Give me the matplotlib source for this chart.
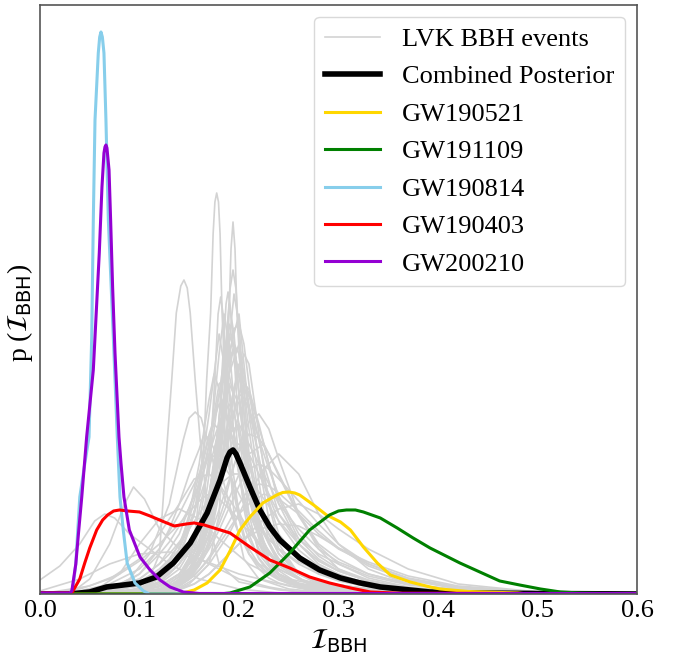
import matplotlib
matplotlib.use("Agg")
import matplotlib.pyplot as plt

plt.rcParams['font.family'] = 'serif'
plt.rcParams['font.serif'] = ['Liberation Serif', 'DejaVu Serif']

# ---- colored event posteriors (arbitrary density units) ----
combined_x = [0.0, 0.03, 0.05, 0.067, 0.084, 0.10, 0.117, 0.134, 0.151, 0.168, 0.181, 0.188, 0.191,
              0.194, 0.197, 0.201, 0.211, 0.221, 0.231, 0.241, 0.261, 0.281, 0.302, 0.322, 0.342,
              0.372, 0.392, 0.43, 0.5, 0.6]
combined_y = [0.0, 0.0, 0.2, 0.7, 0.9, 1.1, 1.7, 3.1, 5.1, 8.1, 11.4, 13.6, 14.2,
              14.4, 14.0, 13.1, 10.7, 8.4, 6.7, 5.4, 3.6, 2.4, 1.6, 1.1, 0.7,
              0.4, 0.2, 0.1, 0.05, 0.0]

gw190521_x = [0.0, 0.14, 0.155, 0.168, 0.181, 0.191, 0.201, 0.211, 0.224, 0.238, 0.244, 0.250,
              0.256, 0.261, 0.275, 0.288, 0.302, 0.312, 0.325, 0.339, 0.352, 0.372, 0.392, 0.402,
              0.43, 0.48, 0.49, 0.6]
gw190521_y = [0.0, 0.0, 0.4, 1.1, 2.4, 4.3, 6.4, 7.7, 9.1, 9.9, 10.15, 10.2,
              10.1, 9.9, 8.9, 7.9, 7.2, 6.4, 4.7, 3.1, 1.9, 1.2, 0.7, 0.5,
              0.25, 0.1, 0.0, 0.0]

gw191109_x = [0.0, 0.18, 0.191, 0.211, 0.231, 0.251, 0.271, 0.291, 0.300, 0.308, 0.317, 0.325,
              0.342, 0.359, 0.375, 0.392, 0.402, 0.422, 0.442, 0.462, 0.482, 0.503, 0.523, 0.543,
              0.57, 0.6]
gw191109_y = [0.0, 0.0, 0.1, 0.7, 2.1, 4.1, 6.4, 7.9, 8.3, 8.4, 8.4, 8.2,
              7.6, 6.6, 5.6, 4.6, 4.1, 3.1, 2.2, 1.3, 0.9, 0.5, 0.2, 0.1,
              0.05, 0.05]

gw190814_x = [0.0, 0.03, 0.033, 0.036, 0.038, 0.040, 0.045, 0.0493, 0.052, 0.0536, 0.0553,
              0.0586, 0.0600, 0.0613, 0.0627, 0.0643, 0.0663, 0.0687, 0.0737, 0.0777, 0.0804,
              0.0837, 0.0876, 0.0955, 0.104, 0.11, 0.6]
gw190814_y = [0.0, 0.0, 0.5, 3.0, 6.4, 9.7, 13.0, 15.7, 25.7, 37.4, 47.4,
              54.1, 55.7, 56.2, 55.7, 54.1, 47.4, 37.4, 25.7, 15.7, 9.7,
              6.4, 3.1, 1.1, 0.3, 0.0, 0.0]

gw190403_x = [0.0, 0.03, 0.032, 0.04, 0.045, 0.05, 0.057, 0.063, 0.068, 0.074, 0.080, 0.088,
              0.100, 0.1106, 0.125, 0.135, 0.147, 0.155, 0.165, 0.178, 0.191, 0.211, 0.231,
              0.251, 0.271, 0.291, 0.312, 0.332, 0.36, 0.47, 0.48, 0.6]
gw190403_y = [0.1, 0.1, 0.1, 1.5, 3.1, 4.6, 6.4, 7.4, 7.9, 8.3, 8.4, 8.3,
              8.2, 7.8, 7.2, 6.8, 7.0, 7.1, 6.9, 6.5, 6.1, 4.7, 3.4,
              2.6, 1.7, 1.1, 0.6, 0.2, 0.08, 0.05, 0.0, 0.0]

gw200210_x = [0.0, 0.03, 0.032, 0.036, 0.039, 0.042, 0.0469, 0.0503, 0.0536, 0.0553, 0.0596,
              0.0623, 0.0643, 0.0653, 0.0663, 0.0673, 0.0694, 0.071, 0.073, 0.0754, 0.0794,
              0.0814, 0.0844, 0.0898, 0.1005, 0.1106, 0.1206, 0.1307, 0.144, 0.16, 0.6]
gw200210_y = [0.1, 0.1, 0.3, 3.0, 6.4, 9.7, 15.7, 19.1, 22.4, 25.7, 34.1,
              40.7, 44.1, 44.7, 44.9, 44.6, 42.4, 37.4, 30.7, 24.1, 15.7,
              13.1, 9.7, 6.4, 3.7, 2.4, 1.4, 0.7, 0.2, 0.05, 0.05]

# ---- LVK BBH event posteriors (grey) ----
# first batch on a coarse shared grid
grid_x = [0.0, 0.04, 0.07, 0.10, 0.12, 0.14, 0.155, 0.17, 0.18, 0.19, 0.20, 0.21, 0.225,
          0.24, 0.26, 0.28, 0.30, 0.33, 0.37, 0.42, 0.50, 0.60]
grey_broad = [
    [0, 0, 0.2, 0.5, 1.2, 3, 6, 13, 20, 27, 22, 14, 7, 4, 2, 1.2, 0.8, 0.4, 0.2, 0.1, 0, 0],
    [0, 0, 0.1, 0.4, 1, 2.5, 5, 10, 16, 22, 25, 19, 11, 6, 3.5, 2, 1.3, 0.7, 0.3, 0.1, 0, 0],
    [0, 0.1, 0.3, 0.8, 2, 4.5, 8, 15, 21, 22, 17, 11, 6, 3.5, 2, 1.2, 0.8, 0.4, 0.2, 0.1, 0, 0],
    [0, 0, 0.1, 0.3, 0.8, 2, 3.5, 7, 10, 14, 18, 20, 15, 9, 5, 3, 2, 1, 0.4, 0.2, 0, 0],
    [0, 0.2, 0.6, 1.5, 3, 6, 10, 16, 19, 17, 12, 8, 5, 3, 2, 1.3, 0.9, 0.5, 0.2, 0.1, 0, 0],
    [0, 0, 0, 0.2, 0.5, 1.2, 3, 8, 16, 24, 28, 18, 8, 4, 2, 1, 0.6, 0.3, 0.1, 0, 0, 0],
    [0, 0, 0.2, 0.5, 1.2, 3, 5, 9, 13, 16, 17, 15, 12, 9, 6.5, 4.5, 3.2, 2, 1, 0.4, 0.1, 0],
    [0, 0, 0, 0.2, 0.5, 1.2, 2.5, 5, 7, 9.5, 12, 14, 15, 12, 8, 5, 3.5, 2, 1, 0.4, 0.1, 0],
    [0, 0.3, 1, 2.5, 4.5, 8, 11, 14, 13.5, 12, 10, 8, 6, 4.5, 3, 2, 1.5, 0.9, 0.4, 0.2, 0.05, 0],
    [0, 0.5, 1.5, 3.5, 6, 9, 11.5, 12, 11, 9.5, 8, 6.5, 4.5, 3, 2, 1.3, 0.9, 0.5, 0.2, 0.1, 0, 0],
    [0, 0, 0.1, 0.3, 0.8, 2, 4.5, 10, 16, 21, 19, 13, 7, 4, 2.2, 1.3, 0.9, 0.5, 0.2, 0.1, 0, 0],
    [0, 0, 0, 0.1, 0.4, 1.2, 3, 7, 12, 18, 23, 20, 13, 8, 5, 3.3, 2.3, 1.3, 0.6, 0.2, 0.05, 0],
    [0, 0, 0.1, 0.4, 1.2, 3.5, 8, 18, 26, 20, 12, 7, 4, 2.5, 1.5, 1, 0.7, 0.4, 0.2, 0.1, 0, 0],
    [0, 0, 0, 0.1, 0.3, 0.8, 1.8, 3.5, 5, 6.5, 8, 9, 10, 9.5, 8, 6, 4.5, 3, 1.6, 0.7, 0.2, 0],
    [0, 0, 0, 0.1, 0.2, 0.5, 1, 2, 3, 4, 5, 5.8, 6.6, 7, 6.8, 5.8, 4.6, 3.2, 1.8, 0.8, 0.2, 0],
    [0, 0, 0, 0, 0.2, 0.6, 1.5, 3, 4.5, 6, 8, 10, 12.5, 14, 12, 8, 5, 2.5, 1, 0.3, 0, 0],
    [0, 0, 0, 0, 0.1, 0.4, 1, 2, 3, 4, 5, 6, 7.5, 8.5, 9, 8, 6.5, 4.5, 2.5, 1, 0.2, 0],
]

# second batch on a finer shared grid
grid2_x = [0.0, 0.05, 0.08, 0.10, 0.12, 0.13, 0.14, 0.15, 0.16, 0.165, 0.17, 0.175, 0.18,
           0.185, 0.19, 0.195, 0.20, 0.205, 0.21, 0.22, 0.23, 0.24, 0.26, 0.28, 0.30, 0.33,
           0.37, 0.42, 0.50, 0.60]
grey_fine = [
    [0, 0, 0.1, 0.3, 0.8, 1.3, 2, 3.2, 5, 6.5, 8.5, 12, 17, 24, 21, 16, 12, 9, 7, 4.5, 3, 2, 1.1, 0.7, 0.4, 0.2, 0.1, 0, 0, 0],
    [0, 0, 0, 0.1, 0.4, 0.8, 1.4, 2.5, 4.5, 6, 8, 11, 15, 19.5, 23.5, 26.5, 27, 25, 21, 13, 7.5, 4.5, 2, 1.1, 0.7, 0.3, 0.1, 0, 0, 0],
    [0, 0, 0.1, 0.3, 0.8, 1.3, 2, 3, 4.5, 5.5, 7, 8.5, 10.5, 13, 15.5, 18, 20, 21, 20.5, 17, 13, 9.5, 5.5, 3.5, 2.3, 1.3, 0.6, 0.2, 0, 0],
    [0, 0.2, 0.6, 1.2, 2.5, 3.5, 5, 7, 9.5, 11, 12.5, 14.5, 16.5, 18, 19, 18, 16, 13.5, 11, 7.5, 5, 3.5, 2, 1.3, 0.8, 0.4, 0.2, 0.1, 0, 0],
    [0, 0, 0.2, 0.5, 1.5, 2.5, 4.5, 8, 13, 16.5, 19.5, 22, 20.5, 17, 13.5, 10, 7.5, 5.5, 4, 2.5, 1.6, 1.1, 0.6, 0.3, 0.2, 0.1, 0, 0, 0, 0],
    [0, 0, 0, 0, 0.2, 0.4, 0.8, 1.5, 3, 4, 5.5, 7.5, 10, 13, 16.5, 20, 22.5, 24, 23, 16, 9, 5, 2, 1, 0.5, 0.2, 0.1, 0, 0, 0],
    [0, 0, 0.2, 0.5, 1.2, 2, 3, 4.5, 6.5, 7.5, 8.8, 10, 11.5, 12.8, 14, 14.8, 15, 14.6, 14, 12, 10, 8, 5.5, 4, 3, 1.8, 0.9, 0.4, 0.1, 0],
    [0, 0, 0, 0.1, 0.5, 1, 1.8, 3.5, 7, 10, 14, 19, 24, 28, 25, 19, 13, 8.5, 6, 3.5, 2.2, 1.5, 0.8, 0.5, 0.3, 0.1, 0, 0, 0, 0],
    [0, 0.2, 0.8, 2, 4.5, 6.5, 9, 12, 14.5, 16, 15.5, 14.5, 13, 11, 9, 7.5, 6, 5, 4, 2.8, 2, 1.4, 0.8, 0.5, 0.3, 0.2, 0.1, 0, 0, 0],
    [0, 0, 0, 0, 0.2, 0.4, 0.8, 1.5, 2.8, 3.7, 4.8, 6, 7.5, 9, 11, 12.8, 14.5, 16, 17.2, 18, 16.5, 13.5, 8, 4.5, 2.5, 1.2, 0.5, 0.2, 0, 0],
    [0, 0.3, 0.8, 1.5, 3, 4, 5.2, 6.5, 8, 8.8, 9.5, 10.2, 10.8, 11.3, 11.7, 12, 12, 11.8, 11.4, 10.2, 8.8, 7.3, 5, 3.3, 2.3, 1.3, 0.6, 0.2, 0.05, 0],
    [0, 0, 0.2, 0.6, 1.6, 2.6, 4, 6.5, 10, 12.5, 15, 17.5, 20, 19, 17, 15, 13, 11, 9.5, 7, 5.5, 4.5, 3.2, 2.4, 1.8, 1.1, 0.6, 0.3, 0.1, 0],
    [0, 0, 0, 0, 0.2, 0.5, 1, 2, 4, 5.5, 7.5, 10, 14, 19, 25, 30, 27, 20, 14, 7, 3.5, 2, 0.9, 0.5, 0.3, 0.1, 0, 0, 0, 0],
    [0, 0.8, 2, 3.3, 5, 6, 7, 8.2, 9.3, 9.7, 10, 9.8, 9.5, 9, 8.5, 8, 7.4, 6.8, 6.2, 5, 4, 3.2, 2, 1.3, 0.9, 0.5, 0.2, 0.1, 0, 0],
    [0, 0, 0, 0.1, 0.3, 0.6, 1, 1.8, 3, 3.7, 4.5, 5.4, 6.4, 7.5, 8.6, 9.7, 10.8, 11.8, 12.5, 13, 12.5, 11.5, 9.3, 7, 5, 3, 1.5, 0.6, 0.1, 0],
    [0, 0, 0, 0.1, 0.4, 0.8, 1.5, 3, 5.5, 7.5, 10, 13.5, 17.5, 22, 26, 24.5, 20, 15, 11, 6, 3.5, 2, 1, 0.6, 0.3, 0.1, 0, 0, 0, 0],
    [0, 0, 0, 0.1, 0.3, 0.6, 1.2, 2.2, 4, 5.2, 6.8, 8.6, 10.8, 13.2, 15.8, 18.3, 20, 19.6, 18.5, 15.5, 12.5, 9.8, 6, 3.8, 2.5, 1.4, 0.6, 0.2, 0, 0],
    [0, 0, 0.1, 0.3, 0.7, 1.1, 1.7, 2.6, 3.9, 4.8, 5.8, 7, 8.4, 9.9, 11.4, 12.9, 14.2, 15.2, 16, 15.6, 14, 11.8, 7.8, 4.8, 3, 1.6, 0.7, 0.2, 0, 0],
    [0, 0, 0, 0, 0.2, 0.5, 1.1, 2.3, 4.8, 6.8, 9.5, 13, 17.5, 23, 29, 26, 20, 14.5, 10.5, 5.5, 3, 1.8, 0.9, 0.5, 0.3, 0.1, 0, 0, 0, 0],
    [0, 0.3, 1, 2, 4, 5.2, 6.8, 8.6, 11, 12.4, 14, 15.6, 17, 18, 17.6, 16, 13.8, 11.5, 9.4, 6.3, 4.2, 2.8, 1.5, 0.9, 0.5, 0.3, 0.1, 0, 0, 0],
    [0, 0, 0, 0, 0.2, 0.4, 0.9, 1.7, 3.3, 4.6, 6.2, 8.3, 11, 14.3, 17.8, 20.6, 22, 21, 18.6, 13.5, 9.8, 7.2, 4.4, 2.8, 1.9, 1.0, 0.4, 0.1, 0, 0],
    [0, 0.1, 0.4, 1, 2.3, 3.4, 5, 7.5, 11.2, 13.6, 15.8, 17, 16.4, 14.8, 12.6, 10.4, 8.4, 6.8, 5.5, 3.6, 2.4, 1.6, 0.9, 0.5, 0.3, 0.1, 0, 0, 0, 0],
    [0, 0, 0, 0.1, 0.3, 0.5, 0.9, 1.5, 2.4, 3, 3.7, 4.5, 5.4, 6.3, 7.2, 8.1, 9, 9.8, 10.4, 11, 10.8, 10.1, 8.3, 6.3, 4.6, 2.8, 1.4, 0.5, 0.1, 0],
    [0, 0, 0, 0.1, 0.3, 0.6, 1.2, 2.4, 4.5, 6, 8, 10.5, 13.8, 17.8, 22, 25, 24, 20.5, 16.5, 9.5, 5.3, 3.2, 1.5, 0.9, 0.5, 0.2, 0.1, 0, 0, 0],
]

# narrow ones and the low-x bumps each carry their own x values
grey_narrow = [
    ([0.09, 0.11, 0.12, 0.128, 0.1324, 0.137, 0.1415, 0.1447, 0.148, 0.151, 0.156, 0.161, 0.17,
      0.18, 0.20, 0.24, 0.30],
     [0, 1.5, 4, 15.4, 21.4, 28.1, 30.8, 31.4, 30.6, 28.1, 21.4, 15.4, 7, 3, 1.2, 0.4, 0]),
    ([0.12, 0.14, 0.155, 0.165, 0.1675, 0.1715, 0.174, 0.1758, 0.1776, 0.1794, 0.181, 0.183,
      0.186, 0.189, 0.195, 0.205, 0.22, 0.25, 0.30],
     [0, 1, 5, 15.4, 21.4, 28.1, 36, 39.2, 40.1, 39.2, 36, 28.1, 21.4, 15.4, 8, 3.5, 1.5, 0.5, 0]),
    ([0.13, 0.15, 0.17, 0.18, 0.185, 0.1876, 0.19, 0.192, 0.194, 0.196, 0.198, 0.2017, 0.205,
      0.215, 0.23, 0.26, 0.32],
     [0, 1, 3, 8, 15.4, 21.4, 28.1, 34.5, 37.2, 34.5, 28.1, 21.4, 15.4, 7, 3, 1, 0]),
    ([0.12, 0.15, 0.17, 0.18, 0.186, 0.191, 0.194, 0.197, 0.202, 0.21, 0.22, 0.24, 0.27, 0.32],
     [0, 2, 5, 11, 22, 30.5, 32.4, 30.5, 22, 12, 6, 2.5, 1, 0]),
    ([0.12, 0.14, 0.16, 0.17, 0.176, 0.179, 0.1816, 0.184, 0.187, 0.193, 0.20, 0.21, 0.23, 0.26,
      0.30],
     [0, 1.5, 5, 12, 22, 28, 29.7, 28, 22, 13, 8, 4, 2, 0.8, 0]),
    ([0.13, 0.15, 0.17, 0.178, 0.184, 0.187, 0.189, 0.191, 0.195, 0.20, 0.21, 0.22, 0.24, 0.28],
     [0, 2, 7, 14, 24, 29, 30.2, 29, 24, 16, 8, 4, 1.5, 0]),
    ([0.12, 0.15, 0.17, 0.18, 0.188, 0.191, 0.194, 0.197, 0.20, 0.21, 0.22, 0.24, 0.27, 0.32],
     [0, 2, 6, 12, 20, 23.5, 24.5, 23.5, 20, 12, 7, 3, 1, 0]),
    ([0.06, 0.09, 0.11, 0.13, 0.144, 0.15, 0.156, 0.162, 0.168, 0.18, 0.20, 0.22, 0.25, 0.30,
      0.35],
     [0, 1.5, 4, 9, 15.4, 17.6, 18.2, 17.6, 15.4, 11, 6, 3, 1.5, 0.5, 0]),
    ([0.03, 0.05, 0.07, 0.085, 0.094, 0.105, 0.12, 0.14, 0.16, 0.18, 0.20, 0.23, 0.27],
     [0, 1.5, 5, 9, 10.7, 9.5, 6.5, 4.5, 3.5, 2.5, 1.5, 0.7, 0]),
    ([0.0, 0.02, 0.04, 0.055, 0.065, 0.075, 0.09, 0.11, 0.13, 0.16, 0.20, 0.25],
     [1.4, 2.8, 5, 7.3, 8, 7.6, 6, 4.5, 3, 1.5, 0.5, 0]),
    ([0.05, 0.08, 0.10, 0.12, 0.14, 0.16, 0.18, 0.21, 0.25, 0.30],
     [0, 2, 5, 7.5, 8.5, 7.5, 5.5, 3, 1, 0]),
    ([0.0, 0.04, 0.07, 0.10, 0.13, 0.16, 0.20, 0.25, 0.30],
     [0.3, 1.5, 3, 4, 4.2, 3.5, 2, 0.8, 0]),
]

fig = plt.figure(figsize=(6.73, 6.58), dpi=100)
ax = fig.add_axes([0.0594, 0.0973, 0.8871, 0.8951])

grey = '#d3d3d3'
for i, ys in enumerate(grey_broad):
    ax.plot(grid_x, ys, color=grey, lw=1.2, label='LVK BBH events' if i == 0 else None)
for ys in grey_fine:
    ax.plot(grid2_x, ys, color=grey, lw=1.2)
for xs, ys in grey_narrow:
    ax.plot(xs, ys, color=grey, lw=1.2)

ax.plot(combined_x, combined_y, color='black', lw=4, label='Combined Posterior')
ax.plot(gw190521_x, gw190521_y, color='gold', lw=2.2, label='GW190521')
ax.plot(gw191109_x, gw191109_y, color='green', lw=2.2, label='GW191109')
ax.plot(gw190814_x, gw190814_y, color='skyblue', lw=2.2, label='GW190814')
ax.plot(gw190403_x, gw190403_y, color='red', lw=2.2, label='GW190403')
ax.plot(gw200210_x, gw200210_y, color='darkviolet', lw=2.2, label='GW200210')

ax.set_xlim(0, 0.6)
ax.set_ylim(0, 58.9)
ax.set_yticks([])
ax.tick_params(axis='x', length=0, labelsize=19, pad=4)
for s in ax.spines.values():
    s.set_color('#555555')
    s.set_linewidth(1.2)

ax.set_xlabel(r'$\mathcal{I}_{\rm BBH}$', fontsize=20, labelpad=4)
ax.set_ylabel(r'p ($\mathcal{I}_{\rm BBH}$)', fontsize=20)
ax.yaxis.set_label_coords(-0.008, 0.477)

leg = ax.legend(loc='upper right', fontsize=19, handlelength=2.1, handletextpad=0.83,
                labelspacing=0.53, borderpad=0.4, borderaxespad=0.45,
                frameon=True, fancybox=True)
leg.get_frame().set_edgecolor('#d0d0d0')

fig.savefig('out.png', dpi=100)
